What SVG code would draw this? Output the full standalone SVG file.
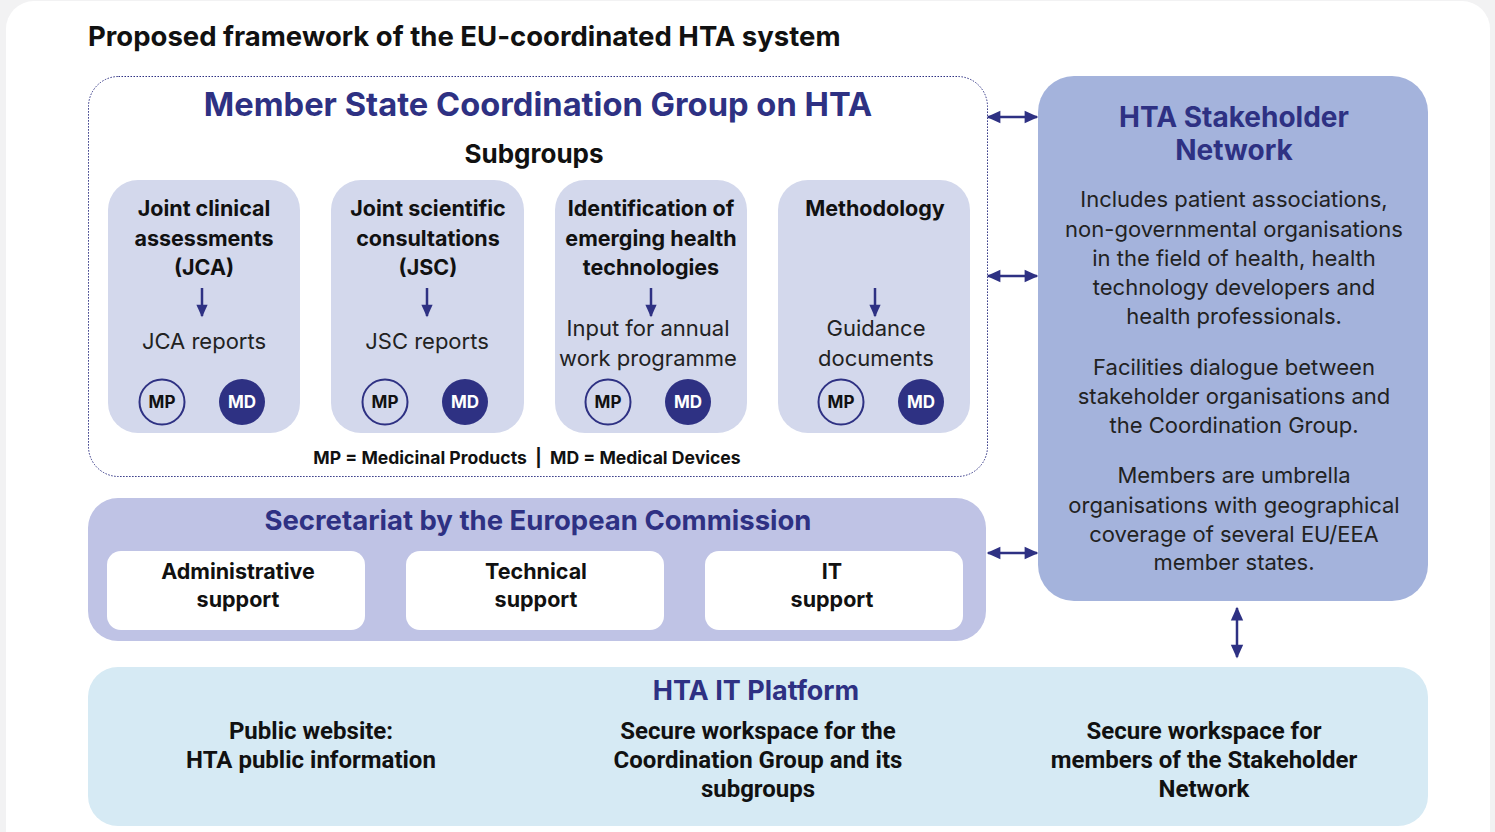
<svg xmlns="http://www.w3.org/2000/svg" width="1495" height="832" viewBox="0 0 1495 832">
<defs>
<style>
text{font-family:Inter,"Noto Sans","Liberation Sans",sans-serif;text-anchor:middle}
.ttl{font-size:27.5px;font-weight:700;fill:#111;text-anchor:start}
.navy{fill:#2e3183;font-weight:700}
.b{font-weight:700;fill:#111;font-size:21.5px}
.r{fill:#222;font-size:22px}
.sg{fill:#d3d8ec}
.mp{fill:none;stroke:#2e3183;stroke-width:2}
.md{fill:#2e3183}
.ct{font-size:17px;font-weight:700;fill:#111}
.ctw{font-size:17px;font-weight:700;fill:#fff}
.lg{font-size:17.6px;font-weight:700;fill:#111}
.wb{fill:#fff}
.plat{font-family:Roboto,"Liberation Sans",sans-serif;font-weight:700;font-size:24px;fill:#111}
.ln{stroke:#2e3183;stroke-width:2.5;fill:none}
</style>
<marker id="ah" viewBox="0 0 10 10" refX="9" refY="5" markerWidth="6" markerHeight="5.5" orient="auto-start-reverse" markerUnits="strokeWidth"><path d="M0,0.5 L10,5 L0,9.5 z" fill="#2e3183"/></marker>
<marker id="ah2" viewBox="0 0 10 10" refX="9" refY="5" markerWidth="5.5" markerHeight="5" orient="auto" markerUnits="strokeWidth"><path d="M0,0.5 L10,5 L0,9.5 z" fill="#2e3183"/></marker>
</defs>
<rect x="0" y="0" width="1495" height="832" fill="#f2f2f3"/>
<rect x="6" y="1" width="1484" height="860" rx="28" fill="#fff"/>
<text class="ttl" x="88" y="46">Proposed framework of the EU-coordinated HTA system</text>

<g id="coordination-group">
<rect x="88.5" y="76.5" width="899" height="400" rx="30" fill="#fff" stroke="#2e3183" stroke-width="1" stroke-dasharray="1.5 1.5"/>
<text class="navy" x="538" y="116" font-size="32.7">Member State Coordination Group on HTA</text>
<text class="b" x="534" y="163" style="font-size:26px">Subgroups</text>
<text class="lg" x="527" y="464" xml:space="preserve">MP = Medicinal Products  |  MD = Medical Devices</text>
</g>

<g id="sg-jca">
<rect class="sg" x="108" y="180" width="192" height="253" rx="30"/>
<text class="b" x="204" y="216">Joint clinical</text>
<text class="b" x="204" y="246">assessments</text>
<text class="b" x="204" y="275">(JCA)</text>
<text class="r" x="204" y="349">JCA reports</text>
<circle class="mp" cx="162" cy="402" r="22.5"/><text class="ct" x="162" y="408">MP</text>
<circle class="md" cx="242" cy="402" r="23"/><text class="ctw" x="242" y="408">MD</text>
</g>
<g id="sg-jsc">
<rect class="sg" x="331" y="180" width="193" height="253" rx="30"/>
<text class="b" x="428" y="216">Joint scientific</text>
<text class="b" x="428" y="246">consultations</text>
<text class="b" x="428" y="275">(JSC)</text>
<text class="r" x="427" y="349">JSC reports</text>
<circle class="mp" cx="385" cy="402" r="22.5"/><text class="ct" x="385" y="408">MP</text>
<circle class="md" cx="465" cy="402" r="23"/><text class="ctw" x="465" y="408">MD</text>
</g>
<g id="sg-ident">
<rect class="sg" x="555" y="180" width="192" height="253" rx="30"/>
<text class="b" x="651" y="216">Identification of</text>
<text class="b" x="651" y="246">emerging health</text>
<text class="b" x="651" y="275">technologies</text>
<text class="r" x="648" y="336">Input for annual</text>
<text class="r" x="648" y="366">work programme</text>
<circle class="mp" cx="608" cy="402" r="22.5"/><text class="ct" x="608" y="408">MP</text>
<circle class="md" cx="688" cy="402" r="23"/><text class="ctw" x="688" y="408">MD</text>
</g>
<g id="sg-method">
<rect class="sg" x="778" y="180" width="192" height="253" rx="30"/>
<text class="b" x="875" y="216">Methodology</text>
<text class="r" x="876" y="336">Guidance</text>
<text class="r" x="876" y="366">documents</text>
<circle class="mp" cx="841" cy="402" r="22.5"/><text class="ct" x="841" y="408">MP</text>
<circle class="md" cx="921" cy="402" r="23"/><text class="ctw" x="921" y="408">MD</text>
</g>

<g id="secretariat">
<rect x="88" y="498" width="898" height="143" rx="30" fill="#bfc3e5"/>
<text class="navy" x="538" y="530" font-size="27.5">Secretariat by the European Commission</text>
<rect class="wb" x="107" y="551" width="258" height="79" rx="14"/>
<rect class="wb" x="406" y="551" width="258" height="79" rx="14"/>
<rect class="wb" x="705" y="551" width="258" height="79" rx="14"/>
<text class="b" x="238" y="579">Administrative</text><text class="b" x="238" y="607">support</text>
<text class="b" x="536" y="579">Technical</text><text class="b" x="536" y="607">support</text>
<text class="b" x="832" y="579">IT</text><text class="b" x="832" y="607">support</text>
</g>

<g id="stakeholder-network">
<rect x="1038" y="76" width="390" height="525" rx="36" fill="#a4b3dc"/>
<text class="navy" x="1234" y="127" font-size="28">HTA Stakeholder</text>
<text class="navy" x="1234" y="160" font-size="28">Network</text>
<text class="r" x="1234" y="207">Includes patient associations,</text>
<text class="r" x="1234" y="237">non-governmental organisations</text>
<text class="r" x="1234" y="266">in the field of health, health</text>
<text class="r" x="1234" y="295">technology developers and</text>
<text class="r" x="1234" y="324">health professionals.</text>
<text class="r" x="1234" y="375">Facilities dialogue between</text>
<text class="r" x="1234" y="404">stakeholder organisations and</text>
<text class="r" x="1234" y="433">the Coordination Group.</text>
<text class="r" x="1234" y="483">Members are umbrella</text>
<text class="r" x="1234" y="513">organisations with geographical</text>
<text class="r" x="1234" y="542">coverage of several EU/EEA</text>
<text class="r" x="1234" y="570">member states.</text>
</g>

<g id="it-platform">
<rect x="88" y="667" width="1340" height="159" rx="30" fill="#d6eaf4"/>
<text class="navy" x="756" y="700" font-size="27">HTA IT Platform</text>
<text class="plat" x="311" y="739">Public website:</text>
<text class="plat" x="311" y="768">HTA public information</text>
<text class="plat" x="758" y="739">Secure workspace for the</text>
<text class="plat" x="758" y="768">Coordination Group and its</text>
<text class="plat" x="758" y="797">subgroups</text>
<text class="plat" x="1204" y="739">Secure workspace for</text>
<text class="plat" x="1204" y="768">members of the Stakeholder</text>
<text class="plat" x="1204" y="797">Network</text>
</g>

<g id="connectors">
<line class="ln" x1="202" y1="288" x2="202" y2="316" marker-end="url(#ah2)"/>
<line class="ln" x1="427" y1="288" x2="427" y2="316" marker-end="url(#ah2)"/>
<line class="ln" x1="651" y1="288" x2="651" y2="316" marker-end="url(#ah2)"/>
<line class="ln" x1="875" y1="288" x2="875" y2="316" marker-end="url(#ah2)"/>
<line class="ln" x1="988" y1="117" x2="1037" y2="117" marker-start="url(#ah)" marker-end="url(#ah)"/>
<line class="ln" x1="988" y1="276" x2="1037" y2="276" marker-start="url(#ah)" marker-end="url(#ah)"/>
<line class="ln" x1="988" y1="553" x2="1037" y2="553" marker-start="url(#ah)" marker-end="url(#ah)"/>
<line class="ln" x1="1237" y1="608" x2="1237" y2="657" marker-start="url(#ah)" marker-end="url(#ah)"/>
</g>
</svg>
